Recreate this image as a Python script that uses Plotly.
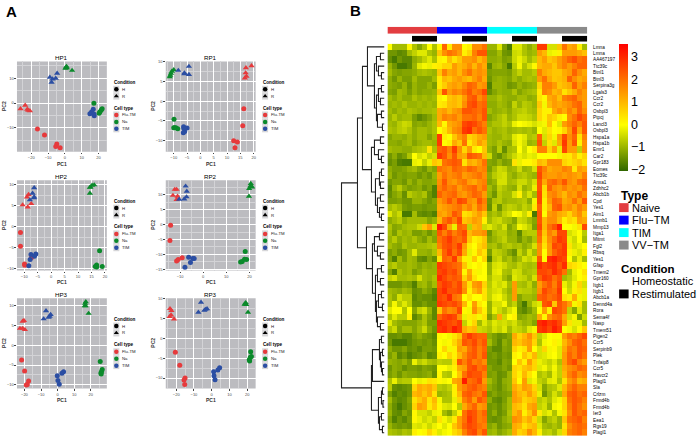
import plotly.graph_objects as go

FONT = "Liberation Sans"

# PCA panels: points in order red/green/blue triangles (R), then red/green/blue circles (H)
hp1_x = [-26.4, -23.6, -22.4, -21.8, -20.8, 1, 0.6, 1.2, 0.4, 4.3, -8.9, -4.6, -5.4, -7.3, -7.9,
         -16.3, -12.1, -4.8, -5.4, -2.8, 17.3, 22.2, 21.6, 20.8, 20.4, 16.9, 15.9, 14.9, 17.5, 17.3]
hp1_y = [-2.3, -0.9, -2.5, -2.9, -3.1, 14.8, 14.4, 14.2, 14, 13.2, 10.4, 12, 10, 9.7, 8.4,
         -10.5, -12.9, -16.5, -17.5, -18, -0.1, -2.3, -2.9, -3.6, -4.1, -2.5, -3.6, -4.3, -5.1, -4.4]
rp1_x = [17.1, 19.2, 17, 17.3, 16.7, -10, -10.7, -11, -11.3, -11.5, -8.3, -4.3, -6, -4.3, -6,
         16.3, 15.9, 12.5, 13.9, 13, -9.9, -10, -9.2, -8.5, -9.7, -6.3, -5, -5.9, -6.4, -6.2]
rp1_y = [8.4, 8.9, 7.1, 6.25, 5.8, 7.9, 7.5, 7, 6.5, 6.1, 7.75, 8.75, 7.1, 6.7, 6.9,
         -1.9, -6.2, -10, -10.3, -11.8, -4.6, -6.75, -6.7, -7, -6.75, -6.5, -6.8, -7.7, -8, -6.9]
hp2_x = [-10.6, -9, -8.4, -8.7, -7.4, 14.4, 14.6, 15.2, 16, 14.4, -6.3, -6.9, -6.4, -7.9, -6.3,
         -11.4, -11.4, -9.9, -9.8, -7.3, 18, 16.9, 16.9, 19, 16.4, -7.5, -5.7, -6.2, -7.8, -8.3]
hp2_y = [5.2, 7.1, 7.7, 4.7, 5.5, 8, 9.5, 9.9, 10, 9.4, 9.3, 8, 6.9, 6.4, 7.1,
         -1.4, -4.7, -9, -9.3, -7.4, -5.8, -9.2, -9.7, -9.6, -9.6, -6.7, -6.6, -7.1, -7.9, -9.4]
rp2_x = [-12.3, -11.5, -13.1, -11.1, -11.5, 19.8, 19.9, 20.6, 20.4, 21.2, -7.6, -7.1, -7.2, -8.2, -10.4,
         -14.1, -14.4, -9.1, -10.8, -11.5, 18.2, 17.9, 18.8, 16.9, 16.2, -6.3, -4.5, -3.9, -5.5, -7.9]
rp2_y = [11.8, 11.8, 9.8, 9.5, 8.4, 9.5, 12.1, 13.8, 12.9, 12.6, 12.9, 11.2, 9.3, 8.6, 8.5,
         -0.2, -5.3, -11.1, -11.7, -12.2, -9, -11.6, -11.7, -12.4, -12.5, -10.9, -11.4, -11.4, -12.7, -14.3]
hp3_x = [-21.1, -20.3, -22.7, -21.1, -19.7, 17, 16.6, 16.9, 16.4, 18.7, -7, -8.4, -4.2, -4.8, -5.4,
         -21.7, -19.9, -17.5, -18.3, -18.9, 25.7, 26.9, 26.5, 26.1, 26.3, -0.2, 3.6, 2.6, 0.2, 1]
hp3_y = [6, 6.2, 4.2, 4.2, 3.9, 10.9, 10.5, 9.9, 9.9, 8, 8.65, 6.6, 7.7, 7.25, 7,
         -3.75, -6.5, -9, -9.9, -10, -4.1, -6.1, -6.6, -7, -7.25, -7.7, -6.7, -7.1, -8.9, -9.85]
rp3_x = [-23.5, -22.7, -22.9, -23.7, -21.2, 19.2, 18.6, 19.5, 18.9, 20.5, -6, -7.5, -2.6, -3.5, -4.1,
         -20.5, -18, -15, -15.6, -15.2, 22, 22.4, 21.8, 21.2, 21.4, 4.5, 3.5, 1.1, 1.3, 1.9]
rp3_y = [7.4, 6.9, 5.8, 5.4, 4.8, 8.9, 8.5, 8.4, 8.6, 6.5, 9, 6.5, 7.35, 7.2, 7,
         -3.5, -6.8, -10, -10.5, -11.6, -3.4, -4.6, -4.8, -5.4, -5.7, -7.4, -8, -8.4, -9.4, -10.4]

cell_types = ["Flu-TM", "Na", "TIM"]
cell_colors = ["#e63a3c", "#0b8a2b", "#2b4ea3"]

# heatmap rows, in tenths of a z-score; columns: Naive, Flu-TM, TIM, VV-TM, each 5 H + 5 R
gene_labels = ["Lmna", "Lmna", "AA467197", "Ttc39c", "Btnl1", "Btnl3", "Serpina3g", "Lgals3", "Ccr2", "Ccr2",
               "Osbpl3", "Ptpcj", "Lancl3", "Osbpl3", "Hspa1a", "Hspa1b", "Emr1", "Car2", "Gpr183", "Eomes",
               "Ttc39c", "Anxa1", "Zdhhc2", "Abcb1b", "Cpd", "Yes1", "Aim1", "Lmnb1", "Mmp13", "Itga1",
               "Mitmt", "Fgl2", "Rbsq", "Yes1", "Gfap", "Tmem2", "Gpr160", "Itgb1", "Itgb1", "Abcb1a",
               "Dennd4a", "Rora", "Sema4f", "Nasp", "Tmem51", "Pigen2", "Ccr5", "Serpinb9", "Plek", "Tnfaip8",
               "Ccr5", "Havcr2", "Plagl1", "Sla", "Crlzm", "Frmd4b", "Frmd4b", "Ier3", "Eea1", "Rgs19", "Plagl1"]
heat_rows = [
    [0, -9, -9, -9, 1, -8, -12, -8, 0, -8, 1, 22, 3, 16, 16, 0, 2, 16, 16, 20, -10, -10, -3, -13, -18, -3, -3, -8, -11, -8, 28, 28, -4, -4, 8, 20, 12, 14, 2, -9],
    [-14, -14, -16, -15, -9, -6, -3, -3, -8, -10, 8, 16, 20, 18, 14, 2, 6, 18, 24, 24, -12, -12, -9, -14, -15, -5, -4, -8, -10, -9, 14, 10, -2, -1, 2, 14, 14, 14, 12, 9],
    [-15, -18, -14, -16, -16, -11, -9, -6, -3, -8, 2, 1, 9, 4, 8, 14, 14, 16, 10, 14, -11, -11, -10, -13, -12, -5, -2, -5, -9, -6, 10, 14, 8, 10, 14, 18, 22, 25, 20, 22],
    [-10, -14, -18, -18, -16, -10, -3, -1, -2, 2, 3, 6, 6, 14, 10, 12, 16, 10, 16, 12, -16, -10, -9, -12, -18, -7, -1, -8, -4, 1, 10, 12, 12, 8, 14, 18, 14, 18, 22, 22],
    [-9, -12, -13, -12, -12, -11, -9, -8, -9, -10, 8, 18, 12, 14, 10, 16, 20, 14, 16, 14, -13, -12, -12, -12, -13, -9, -6, -9, -9, -7, 18, 12, 10, 8, 8, 12, 14, 22, 16, 12],
    [-11, -14, -10, -13, -13, -9, -12, -12, -12, -9, 3, 10, 8, 12, 14, 11, 9, 14, 18, 12, -14, -11, -10, -11, -12, -9, -11, -9, -8, -9, 14, 20, 12, 8, 9, 11, 22, 16, 12, 14],
    [-11, -12, -13, -10, -14, -10, -12, -12, -10, -13, 3, 7, 12, 14, 12, 17, 22, 20, 14, 16, -17, -10, -10, -11, -14, -13, -10, -12, -11, -10, 6, 18, 18, 14, 8, 10, 12, 22, 14, 18],
    [-12, -13, -9, -10, -13, -10, -12, -11, -11, -10, 8, 24, 14, 18, 16, 20, 24, 18, 20, 26, -15, -12, -10, -11, -11, -8, -12, -10, -9, -8, 3, 18, 16, 10, 12, 4, 8, 12, 18, 14],
    [-9, -11, -9, -11, -11, -8, -10, -9, -10, -9, 2, 0, 8, 10, 8, 14, 22, 24, 16, 20, -10, -10, -8, -10, -11, -11, -9, -9, -11, -10, 4, 1, 12, 14, 9, 18, 20, 22, 16, 14],
    [-10, -9, -10, -8, -10, -10, -9, -10, -9, -10, 3, 4, 9, 10, 8, 16, 24, 26, 20, 22, -11, -11, -9, -10, -12, -6, -10, -7, -8, -10, 8, -1, 10, 14, 12, 14, 16, 20, 22, 14],
    [-9, -11, -9, -10, -8, -9, -10, -9, -9, -8, 12, 14, 10, 14, 16, 24, 24, 22, 20, 24, -9, -11, -10, -9, -11, -8, -7, -6, -8, -9, 6, 2, 2, 12, 16, 12, 18, 14, 22, 16],
    [-10, -7, -10, -9, -9, -13, -16, -14, -12, -9, 12, 18, 16, 18, 14, 20, 20, 22, 18, 24, -12, -10, -8, -6, -10, -8, -5, -5, -6, -8, 6, 2, 8, 6, 2, 0, 16, 20, 26, 22],
    [-9, -10, -7, -5, -6, -12, -11, -12, -10, -8, 10, 1, 12, 14, 16, 26, 28, 26, 22, 18, -10, -8, -8, -6, -8, -2, 0, -1, -2, -4, -2, -1, 9, 0, -3, 14, 18, 22, 18, 24],
    [-8, -9, -7, -6, -8, -11, -9, -9, -10, -8, 0, 4, 10, 16, 18, 28, 30, 20, 24, 20, -8, -10, -9, -8, -10, -9, -8, -9, -8, -10, 0, -3, 4, 0, 1, 6, 14, 26, 12, 24],
    [-12, -10, -10, -11, -9, -11, -9, -9, -12, -9, 28, 2, 0, 8, 14, 18, 6, 8, 12, 14, -9, -10, -10, -8, -9, -3, -1, -3, -8, -7, 22, -4, 6, -1, 14, 26, 16, 22, 4, 18],
    [-11, -11, -12, -10, -9, -12, -10, -9, -9, -10, 28, 0, 2, 12, 8, 20, 3, 8, 14, 10, -9, -10, -8, -10, -11, -4, -1, -4, -10, -9, 24, -6, 4, -3, 12, 28, 14, 24, 2, 16],
    [-9, -10, -10, -11, -11, -9, -8, -7, 4, -8, 22, 24, 18, 28, 16, 6, 14, 3, 0, 8, -10, -13, -7, -15, -9, -8, 0, -5, 0, 3, 18, 18, 6, 14, -2, 26, 14, 14, -6, 16],
    [-14, -11, -15, -13, -8, 0, -4, -2, -6, -4, 28, 24, 16, 24, 14, 12, 24, 22, 20, 10, -5, -13, -15, -11, -8, -5, -2, -4, -2, -3, 0, 0, 0, 0, -1, 4, 3, 8, 2, 6],
    [-15, -13, -17, -18, -18, -2, -1, -6, -2, 8, 6, 20, 22, 24, 22, 4, 12, 10, 14, 20, -12, -13, -10, -13, -12, 4, -2, 1, 1, 3, 10, 8, 16, 16, 16, 6, 4, 6, 8, 4],
    [-11, -13, -13, -12, -10, -9, -12, -14, -10, -12, 20, 18, 16, 22, 20, 18, 22, 20, 16, 18, -13, -9, -5, -6, -10, -9, -5, -10, -9, -4, 24, 18, 12, 14, 14, 18, 16, 3, 14, 12],
    [-10, -14, -12, -13, -12, -12, -14, -12, -14, -10, 14, 20, 16, 18, 20, 14, 16, 18, 20, 16, -11, -7, -5, -4, -9, -11, -8, -7, -9, -10, 26, 16, 14, 14, 16, 14, 16, 14, 12, 18],
    [-14, -12, -12, -14, -10, -13, -10, -12, -12, -11, 16, 24, 16, 14, 18, 20, 14, 12, 16, 18, -12, -10, -4, -4, -9, -8, -5, -5, -8, -4, 24, 12, 20, 22, 18, 24, 16, 14, 20, 22],
    [-16, -10, -7, -11, -13, -12, -11, -14, -12, -17, 18, 22, 18, 20, 14, 18, 20, 22, 16, 20, -9, -12, -6, -8, -10, -11, -4, -10, -8, -2, 24, 5, 22, 16, 14, 18, 14, 16, 14, 20],
    [-15, -12, -10, -15, -7, -9, -10, -8, -14, -17, 22, 18, 20, 22, 16, 14, 18, 22, 20, 14, -10, -14, -7, -9, -9, -4, 2, -8, -4, -9, 26, 4, 16, 18, 14, 10, 16, 14, 20, 16],
    [-13, -13, -12, -14, -14, -10, -10, -12, -14, -12, 14, 18, 24, 18, 26, 24, 16, 14, 24, 18, -14, -8, -7, -10, -9, -9, -8, -7, -11, -1, 26, 2, 14, 22, 20, 12, 14, 20, 14, 24],
    [-9, -7, -9, -13, -14, -13, -13, -14, -13, -13, 12, 14, 16, 18, 20, 14, 18, 12, 20, 16, -15, -6, -14, -8, -6, -7, -9, -6, -8, 3, 22, 2, 10, 22, 24, 14, 16, 12, 18, 14],
    [-3, -8, -5, -18, -18, -9, -15, -16, -15, -17, 14, 12, 16, 24, 20, 4, 6, 10, 14, 8, -10, -8, -10, -6, -4, 0, -1, -5, 2, -18, 24, 0, 14, 16, 12, 10, 6, 12, 16, 8],
    [-11, -9, -7, -11, -9, -9, -9, -9, -12, -10, 10, 20, 24, 18, 26, 8, 10, 14, 12, 2, -9, -6, -5, -8, -9, -12, -5, -6, -9, -12, 24, 10, 16, 16, 10, 2, 6, 4, 14, 12],
    [-8, -12, -11, -9, -8, -8, -5, 8, 14, -3, 32, 26, 12, -2, 22, 20, -6, 10, 12, -5, -3, -6, -8, -4, -12, -9, -1, -3, -6, -13, 26, 10, 20, 24, 32, 0, 0, -1, 4, 26],
    [-9, -13, -8, -10, -9, -13, -13, -11, -14, -11, 24, 18, 24, 18, 22, 26, 10, 14, 14, 16, -14, -9, -7, -7, -11, -10, -16, -8, -7, -7, 22, 8, 18, 14, 26, 26, -4, -2, 0, -7],
    [-10, -7, -11, -9, -10, -8, -11, -13, -9, -12, 20, 24, 28, 22, 20, 24, 8, 2, 4, 8, -12, -10, -8, -6, -10, -10, -14, -10, -12, -8, 20, 6, 16, 22, 28, 26, -2, -5, 0, -9],
    [-9, -11, -12, -8, -10, -10, -9, -9, -8, -7, 18, 24, 26, 22, 28, 14, 3, 0, 6, 9, -9, -8, -11, -8, -7, -9, -8, -11, -9, -4, 16, 4, 14, 26, 24, 28, 4, -4, -2, 0],
    [-13, -11, -14, -13, -9, -3, -10, -10, -11, -8, 10, 22, 28, 20, 26, 12, -2, 1, 8, 4, -13, -6, -7, -9, -12, -15, -6, -10, -4, -9, 16, 0, 14, 22, 26, 28, 2, -2, -4, 2],
    [-12, -17, -9, -13, -9, -10, -15, -16, -12, -15, 4, 22, 20, 28, 14, 2, -1, 8, 0, 6, -17, -7, -5, -10, -8, -12, -9, -4, -6, -3, 24, 0, 30, 32, 28, 26, 0, -8, -2, -9],
    [-9, -7, -10, -10, -9, -10, -12, -10, -11, -10, 28, 26, 24, 22, 20, 8, -1, 0, 2, 0, -10, -4, -3, -5, -8, -9, -6, -8, -9, -8, 30, 26, 28, 30, 24, 30, 6, 4, 2, 0],
    [-12, -17, -8, -10, -9, -13, -11, -9, -10, -10, 26, 28, 24, 26, 20, 1, 12, 2, -1, 0, -10, -3, -2, -8, -9, -4, -5, -9, -8, -7, 26, 26, 24, 30, 26, 20, -9, -2, 0, 4],
    [-6, -4, -9, -9, -8, -9, -4, -9, -10, -8, 30, 26, 22, 24, 22, 6, 14, 4, 0, 0, -8, -4, -4, -9, -12, -3, -5, -6, -9, -4, 22, 28, 26, 20, 24, -9, -7, -3, 0, 2],
    [-14, -14, -14, -12, -13, -17, -10, -9, -12, -9, 24, 28, 26, 22, 26, 14, 4, 14, 16, 6, -7, -3, -5, -3, -9, 14, -8, -9, -6, -11, 14, 20, 24, 18, 26, -2, -6, -1, 6, -4],
    [-9, -10, -11, -9, -10, -15, -14, -11, -13, -16, 26, 30, 24, 24, 26, 16, 2, 10, 14, 4, -6, -4, -3, -7, -10, 14, -6, -7, -7, -9, 16, 26, 22, 20, 28, 0, -5, 2, 4, -2],
    [-8, -11, -4, -7, -7, -16, -14, -15, -15, -17, 26, 24, 30, 20, 18, 0, 4, 0, 0, 4, -6, -2, -1, -5, -9, 14, -12, -9, -9, -10, 22, 24, 20, 22, 26, 4, 2, 12, -1, -2],
    [-8, -1, -7, -3, -7, -15, -15, -13, -15, -15, 28, 26, 24, 26, 22, 10, 0, 14, 3, 0, -10, -4, -4, -1, -9, -6, -13, -18, -10, -5, -3, 24, 26, 8, 24, 20, 14, -1, 4, -9],
    [-3, 0, 0, -8, 0, -12, -6, -4, -10, -16, 8, 20, 16, 18, 26, 1, -1, 16, 8, 2, -10, -2, -5, -8, -4, -1, -14, -16, -13, -9, 0, 14, 2, 26, 24, 20, -6, -12, -3, -9],
    [-8, -3, -7, -7, 2, -16, -13, -8, -12, -16, 22, 26, 28, 26, 16, -2, 3, 4, -1, 4, -13, -8, 12, -5, 0, 2, -12, -11, -9, -10, 12, 1, 16, 20, 22, 12, -4, -1, -13, -5],
    [-3, -9, -11, -12, -12, -12, -10, -8, -13, -13, 30, 28, 26, 24, 28, -6, -1, 6, -9, -3, -7, -3, -5, -4, -6, -4, -8, -10, -9, -12, 30, 32, 28, 30, 26, 14, 4, -2, -2, -9],
    [-8, -5, -12, -9, -9, -12, -9, -5, -11, -14, 28, 30, 26, 32, 28, 12, 8, 10, -5, -6, -8, -4, -6, -3, -9, -5, -6, -8, -3, -1, 28, 30, 26, 32, 28, 0, -1, -4, 1, 8],
    [-15, -15, -14, -16, -16, -13, -11, -13, -14, -16, 1, 0, -1, 4, 8, 22, 28, 24, 22, 22, -11, -13, -15, -14, -12, 12, 6, 10, 16, 8, -6, -3, 0, 1, 1, 14, 20, 18, 22, 26],
    [-14, -18, -18, -18, -16, -14, -13, -14, -13, -15, 0, -1, 1, 6, 12, 24, 22, 26, 20, 24, -9, -13, -16, -11, -13, 10, 8, 12, 14, 6, -8, -1, 0, 2, -1, 10, 16, 22, 24, 20],
    [-11, -14, -14, -12, -15, -14, -16, -13, -13, -14, 0, 6, -1, 2, 14, 12, 20, 24, 18, 22, -13, -16, -16, -12, -13, 6, 2, 4, 14, 0, -4, 6, -1, 1, -3, 12, 20, 18, 24, 22],
    [-13, -10, -16, -14, -17, -15, -14, -12, -16, -15, 2, 0, 6, 2, 10, 16, 22, 24, 18, 24, -14, -13, -15, -13, -14, 2, 0, 8, 4, 10, -4, -3, -1, 0, -3, 14, 22, 18, 24, 20],
    [-10, -11, -12, -10, -13, -2, -7, -5, -8, -9, -6, -7, -7, 4, 24, 18, 24, 18, 20, 16, -14, -14, -16, -12, -13, 0, 8, 2, 14, 6, -2, -4, -6, -3, -8, 14, 22, 26, 18, 14],
    [-14, -11, -12, -15, -13, -13, -14, -12, -13, -14, 0, 0, -2, 2, 12, 14, 24, 26, 20, 22, -12, -14, -14, -12, -14, 6, 4, 8, 10, 6, -3, -1, -5, -1, -6, 12, 16, 18, 22, 20],
    [-13, -11, -14, -11, -12, -12, -13, -12, -11, -15, 1, -7, -8, 0, 8, 20, 26, 24, 24, 18, -13, -12, -15, -14, -10, 6, 2, 10, 4, 0, -8, -6, -9, -2, -6, 10, 18, 22, 16, 18],
    [-8, -2, -8, -7, -7, 0, -2, -1, 4, 3, 1, -1, 0, 12, 14, 32, 20, 22, 26, 14, -9, -12, -15, -11, -10, 8, 0, 14, -3, -1, -6, -8, -3, -2, -8, 4, 14, 18, 10, 12],
    [-7, -15, -16, -15, -14, 6, 12, 10, 12, 8, -7, -8, -6, 2, 14, 18, 22, 24, 20, 18, -11, -13, -15, -12, -10, 12, 8, 14, 12, 6, -4, -12, -8, -7, -3, 10, 18, 22, 18, 18],
    [-13, -17, -15, -16, -14, 10, 12, 8, 12, 4, -10, -9, -8, 2, 10, 22, 24, 20, 18, 24, -14, -12, -14, -13, -12, 14, 10, 8, 14, 8, -2, -14, -9, -4, -8, 12, 22, 24, 20, 22],
    [-9, -14, -16, -15, -12, 4, 8, 12, 4, 10, -1, -8, -8, -2, 6, 18, 22, 14, 24, 20, -11, -15, -16, -13, -9, 14, 12, 6, 8, 10, -7, -5, -8, -3, -1, 6, 20, 24, 22, 18],
    [-11, -15, -18, -15, -13, 6, 14, 12, 3, 8, 1, -3, -4, 0, -7, 12, 18, 22, 14, 16, -14, -13, -15, -12, -9, 10, 8, 4, 12, 14, -6, -4, -10, -1, 0, 6, 18, 24, 20, 16],
    [-10, -15, -16, -12, -14, 1, -4, -4, -6, -2, -1, -9, -12, -6, 2, 20, 26, 24, 18, 22, -14, -11, -15, -13, -8, 10, 14, 2, 8, 16, 3, -4, -2, -8, -1, 4, 16, 24, 20, 22],
    [-12, -17, -14, -16, -13, 1, -2, -5, -3, -6, 4, -1, -4, 3, 14, 20, 28, 24, 18, 20, -14, -15, -14, -11, -9, 16, 14, 8, 12, 6, -5, -12, -8, -6, -10, 8, 20, 22, 24, 18],
    [-10, -13, -14, -13, -14, -3, -4, -2, -5, -2, 0, -3, 0, 8, 14, 22, 26, 24, 20, 18, -12, -10, -14, -12, -11, 12, 10, 4, 8, 10, -3, -9, -10, -8, -10, 4, 16, 20, 22, 20],
    [-8, -9, -10, -8, -9, 2, 0, 1, 6, 2, -3, -1, 0, 5, 8, 18, 24, 26, 18, 24, -10, -9, -12, -10, -8, 12, 6, 8, 16, 10, 2, -7, -6, -9, -4, 6, 18, 20, 22, 18],
]
assert len(heat_rows) == len(gene_labels) == 61 and all(len(r) == 40 for r in heat_rows)

type_names = ["Naive", "Flu\u2212TM", "TIM", "VV\u2212TM"]
type_colors = ["#e33d41", "#0000ff", "#00ffff", "#8a8a8a"]
condition_names = ["Homeostatic", "Restimulated"]
condition_colors = ["#ffffff", "#000000"]
colorbar_ticks = [-2, -1, 0, 1, 2, 3]

# dendrogram as nested [height, left, right], 0 is a leaf; heights read in pixels from the leaf edge
dendro_c1 = [10, [8, [4, 0, 0], [6, 0, [3, 0, 0]]], [8, [6, [3, 0, 0], [4, 0, 0]], [7, [3, 0, 0], [2, 0, 0]]]]
dendro_s1 = [10, [4, 0, 0], [6, 0, [3, 0, 0]]]
dendro_s2 = [9, [5, [3, 0, 0], [4, 0, 0]], [7, [4, 0, 0], [5, 0, [3, 0, 0]]]]
dendro_b = [12, [10, [5, 0, 0], [7, 0, [4, 0, 0]]], [9, [7, [3, 0, 0], [4, 0, 0]], [8, [6, [3, 0, 0], [2, 0, 0]], [7, 0, [4, 0, 0]]]]]
dendro_a = [12, [5, [3, 0, 0], [4, [2, 0, 0], [3, 0, [2, 0, 0]]]], 0]
dendro_d = [6, [3, [2, 0, 0], [1.5, 0, 0]], [5, [3, 0, 0], [2, 0, 0]]]
dendro_tree = [43, [27, [22, [17, 0, dendro_c1], [13, dendro_s1, dendro_s2]], [18, 0, dendro_b]], [13, dendro_a, dendro_d]]

W, H = 700, 440


def dom_x(x0, x1):
    return [x0 / W, x1 / W]


def dom_y(y0, y1):
    return [1 - y1 / H, 1 - y0 / H]


fig = go.Figure()
annots = []
shapes = []


def label(x, y, text, size, bold=False, anchor="left", color="black", angle=0):
    annots.append(dict(x=x / W, y=1 - y / H, xref="paper", yref="paper", text=f"<b>{text}</b>" if bold else text,
                       showarrow=False, xanchor=anchor, yanchor="middle", textangle=angle,
                       font=dict(family=FONT, size=size, color=color), borderpad=0))


# name, x, y, left, top, x range, y range, x tick step, y tick step
panels = [
    ("HP1", hp1_x, hp1_y, 17, 59, [-28.5, 25], [-19.6, 16.8], 10, 10),
    ("RP1", rp1_x, rp1_y, 166, 59, [-13, 20.75], [-12.75, 10], 5, 5),
    ("HP2", hp2_x, hp2_y, 17, 179, [-12.7, 20.7], [-10.55, 11.1], 5, 5),
    ("RP2", rp2_x, rp2_y, 166, 179, [-16.2, 22.7], [-15.4, 14.85], 10, 5),
    ("HP3", hp3_x, hp3_y, 17, 298, [-24.5, 29.7], [-10.9, 11.8], 10, 5),
    ("RP3", rp3_x, rp3_y, 166, 298, [-25.9, 24.8], [-12.6, 10], 10, 5),
]

axis_no = 0
for name, xs, ys, left, top, xr, yr, xstep, ystep in panels:
    axis_no += 1
    suffix = "" if axis_no == 1 else str(axis_no)
    tick_style = dict(showgrid=True, gridcolor="white", gridwidth=0.9, zeroline=False, ticks="outside", ticklen=1.5,
                      tickwidth=0.6, tickcolor="#444444", tickfont=dict(family=FONT, size=4, color="#4d4d4d"),
                      showline=False)
    fig.layout[f"xaxis{suffix}"] = dict(tick_style, domain=dom_x(left, left + 90), range=xr, dtick=xstep, tick0=0,
                                        anchor=f"y{suffix}", minor=dict(showgrid=True, gridcolor="#d3d3d6", gridwidth=0.5, dtick=xstep / 2))
    fig.layout[f"yaxis{suffix}"] = dict(tick_style, domain=dom_y(top, top + 91), range=yr, dtick=ystep, tick0=0,
                                        anchor=f"x{suffix}", minor=dict(showgrid=True, gridcolor="#d3d3d6", gridwidth=0.5, dtick=ystep / 2))
    shapes.append(dict(type="rect", xref="paper", yref="paper", layer="below", line_width=0, fillcolor="#bcbcc0",
                       x0=left / W, x1=(left + 90) / W, y0=1 - (top + 91) / H, y1=1 - top / H))
    for c in range(3):
        for symbol, base in (("triangle-up", 0), ("circle", 15)):
            i0, i1 = base + c * 5, base + c * 5 + 5
            fig.add_trace(go.Scatter(x=xs[i0:i1], y=ys[i0:i1], mode="markers", xaxis=f"x{suffix}", yaxis=f"y{suffix}",
                                     marker=dict(symbol=symbol, color=cell_colors[c], size=5 if base else 5.5, line_width=0),
                                     showlegend=False))
    label(left + 45, top - 4, name, 6.2, anchor="center")
    label(left + 45, top + 103, "<b>PC1</b>", 5, anchor="center", color="#333333")
    label(left - 13, top + 45, "<b>PC2</b>", 5, anchor="center", color="#333333", angle=-90)

    # per-panel legends
    lx = left + 96
    label(lx, top + 21, "Condition", 4.6, bold=True)
    label(lx, top + 47, "Cell type", 4.6, bold=True)
    for off in (24.5, 31.5, 50.5, 57.5, 64.5):
        shapes.append(dict(type="rect", xref="paper", yref="paper", layer="below", line_width=0, fillcolor="#d6d6d8",
                           x0=(lx + 0.5) / W, x1=(lx + 6.5) / W, y0=1 - (top + off + 7) / H, y1=1 - (top + off) / H))
    label(lx + 8.5, top + 28, "H", 4.3, color="#222222")
    label(lx + 8.5, top + 35, "R", 4.3, color="#222222")
    for c, ct in enumerate(cell_types):
        label(lx + 8.5, top + 54 + 7 * c, ct, 4.3, color="#222222")

# pixel overlay for the small legend keys
axis_no += 1
overlay = str(axis_no)
fig.layout[f"xaxis{overlay}"] = dict(domain=[0, 1], range=[0, W], visible=False, anchor=f"y{overlay}")
fig.layout[f"yaxis{overlay}"] = dict(domain=[0, 1], range=[H, 0], visible=False, anchor=f"x{overlay}")
key_x, key_y, key_sym, key_col = [], [], [], []
for _, _, _, left, top, *_rest in panels:
    key_x += [left + 99.5] * 5
    key_y += [top + 28, top + 35, top + 54, top + 61, top + 68]
    key_sym += ["circle", "triangle-up", "circle", "circle", "circle"]
    key_col += ["black", "black"] + cell_colors
fig.add_trace(go.Scatter(x=key_x, y=key_y, mode="markers", xaxis=f"x{overlay}", yaxis=f"y{overlay}",
                         marker=dict(symbol=key_sym, color=key_col, size=4.5, line_width=0), showlegend=False))

# heatmap
z = [[v / 10 for v in row] for row in heat_rows]
axis_no += 1
heat = str(axis_no)
fig.add_trace(go.Heatmap(z=z, x=list(range(40)), y=list(range(61)), xaxis=f"x{heat}", yaxis=f"y{heat}",
                         zmin=-2.05, zmax=3.6,
                         colorscale=[[0, "#2f6600"], [0.363, "#ffff00"], [1, "#ff0000"]],
                         colorbar=dict(x=620 / W, xanchor="left", xpad=0, y=1 - 41 / H, yanchor="top", ypad=0,
                                       lenmode="pixels", len=127, thicknessmode="pixels", thickness=9,
                                       outlinewidth=0, tickvals=colorbar_ticks, ticks="",
                                       tickfont=dict(family=FONT, size=12.5, color="black"))))
fig.layout[f"xaxis{heat}"] = dict(domain=dom_x(388, 588), range=[-0.5, 39.5], visible=False, anchor=f"y{heat}")
fig.layout[f"yaxis{heat}"] = dict(domain=dom_y(41, 437), range=[60.5, -0.5], anchor=f"x{heat}", side="right",
                                  tickmode="array", tickvals=list(range(61)), ticktext=gene_labels, ticks="outside",
                                  ticklen=4, tickcolor="rgba(0,0,0,0)", showgrid=False, zeroline=False, showline=False,
                                  tickfont=dict(family=FONT, size=4.7, color="black"))

# column annotation bars
type_codes = [i for i in range(4) for _ in range(10)]
cond_codes = [i for _ in range(4) for i in (0, 1) for _ in range(5)]
for codes, colors, top, bottom in ((type_codes, type_colors, 24, 31), (cond_codes, condition_colors, 33, 39)):
    axis_no += 1
    s = str(axis_no)
    n = len(colors)
    scale = []
    for i, col in enumerate(colors):
        scale += [[i / n, col], [(i + 1) / n, col]]
    fig.add_trace(go.Heatmap(z=[codes], x=list(range(40)), xaxis=f"x{s}", yaxis=f"y{s}", zmin=-0.5, zmax=n - 0.5,
                             colorscale=scale, showscale=False))
    fig.layout[f"xaxis{s}"] = dict(domain=dom_x(388, 588), range=[-0.5, 39.5], visible=False, anchor=f"y{s}")
    fig.layout[f"yaxis{s}"] = dict(domain=dom_y(top, bottom), visible=False, anchor=f"x{s}")

# dendrogram
axis_no += 1
den = str(axis_no)
den_x, den_y = [], []
next_leaf = [0]


def walk(node):
    if node == 0:
        next_leaf[0] += 1
        return 0, next_leaf[0] - 1
    h, left_child, right_child = node
    h1, y1 = walk(left_child)
    h2, y2 = walk(right_child)
    den_x.extend([h1, h, h, h2, None])
    den_y.extend([y1, y1, y2, y2, None])
    return h, (y1 + y2) / 2


walk(dendro_tree)
fig.add_trace(go.Scatter(x=den_x, y=den_y, mode="lines", xaxis=f"x{den}", yaxis=f"y{den}",
                         line=dict(color="#222222", width=1.1), showlegend=False))
fig.layout[f"xaxis{den}"] = dict(domain=dom_x(340, 385), range=[45, 0], visible=False, anchor=f"y{den}")
fig.layout[f"yaxis{den}"] = dict(domain=dom_y(41, 437), range=[60.5, -0.5], visible=False, anchor=f"x{den}")

# right hand legends
label(621, 195, "Type", 12, bold=True)
for i, (nm, col) in enumerate(zip(type_names, type_colors)):
    y = 206.5 + i * 12.6
    shapes.append(dict(type="rect", xref="paper", yref="paper", line_width=0, fillcolor=col,
                       x0=620 / W, x1=629.5 / W, y0=1 - (y + 4.5) / H, y1=1 - (y - 4.5) / H))
    label(632, y, nm, 11)
label(621, 268, "Condition", 11.5, bold=True)
for i, (nm, col) in enumerate(zip(condition_names, condition_colors)):
    y = 281 + i * 12.6
    shapes.append(dict(type="rect", xref="paper", yref="paper", line_width=0, fillcolor=col,
                       x0=620 / W, x1=629.5 / W, y0=1 - (y + 4.5) / H, y1=1 - (y - 4.5) / H))
    label(632, y, nm, 11)

label(5, 9, "A", 15, bold=True)
label(349, 8, "B", 15, bold=True)

fig.update_layout(width=W, height=H, margin=dict(l=0, r=0, t=0, b=0), paper_bgcolor="white", plot_bgcolor="rgba(0,0,0,0)",
                  showlegend=False, annotations=annots, shapes=shapes, font=dict(family=FONT))
# the page's default body margin would push the figure 8 px down and right
fig.write_html("out.html", config={"displayModeBar": False},
               post_script="document.body.style.margin='0';document.body.style.overflow='hidden';")
